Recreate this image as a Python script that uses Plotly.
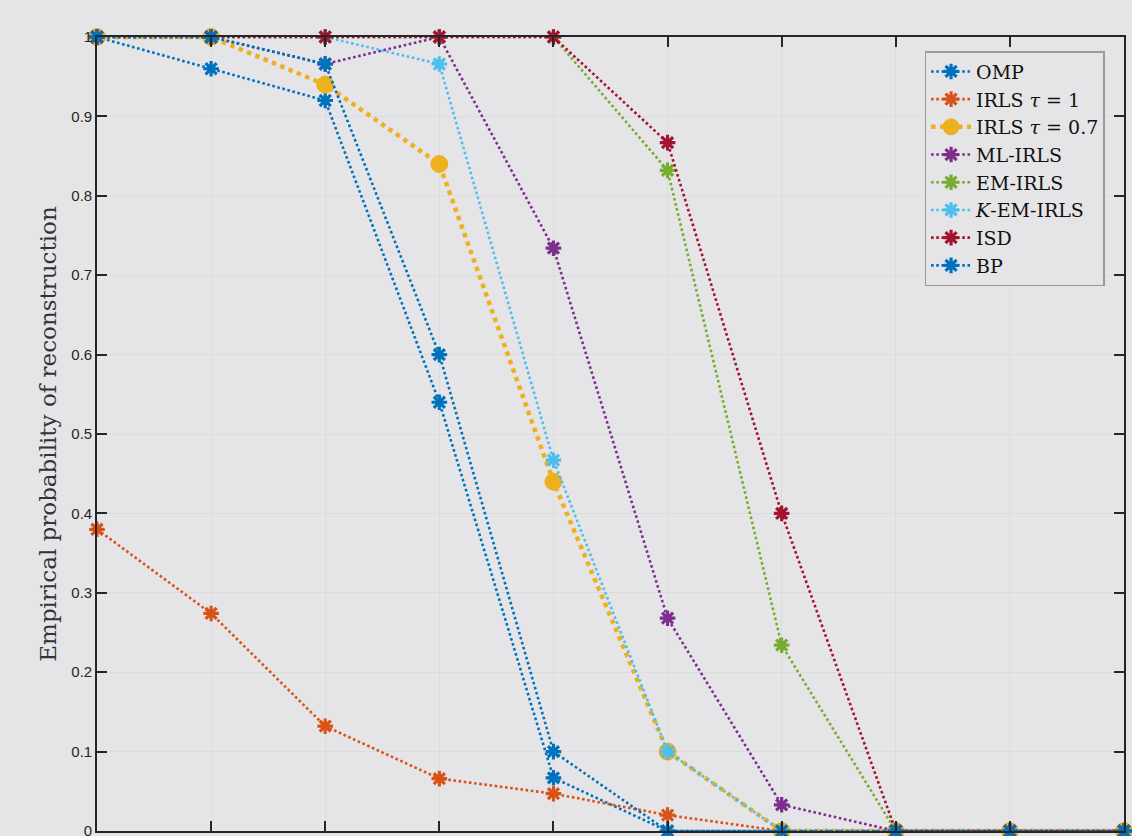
import plotly.graph_objects as go

# Sparsity levels (x positions of the experiment grid)
x_vals = [1, 2, 3, 4, 5, 6, 7, 8, 9, 10]

# Empirical reconstruction probability for each method
omp = [1.0, 0.96, 0.92, 0.54, 0.067, 0.0, 0.0, 0.0, 0.0, 0.0]
irls_1 = [0.38, 0.274, 0.132, 0.066, 0.047, 0.02, 0.0, 0.0, 0.0, 0.0]
irls_07 = [1.0, 1.0, 0.94, 0.84, 0.44, 0.10, 0.0, 0.0, 0.0, 0.0]
ml_irls = [1.0, 1.0, 0.966, 1.0, 0.734, 0.268, 0.033, 0.0, 0.0, 0.0]
em_irls = [1.0, 1.0, 1.0, 1.0, 1.0, 0.832, 0.234, 0.0, 0.0, 0.0]
kem_irls = [1.0, 1.0, 1.0, 0.966, 0.467, 0.10, 0.0, 0.0, 0.0, 0.0]
isd = [1.0, 1.0, 1.0, 1.0, 1.0, 0.867, 0.40, 0.0, 0.0, 0.0]
bp = [1.0, 1.0, 0.966, 0.60, 0.10, 0.0, 0.0, 0.0, 0.0, 0.0]

y_ticks = [0, 0.1, 0.2, 0.3, 0.4, 0.5, 0.6, 0.7, 0.8, 0.9, 1]
y_tick_text = ["0", "0.1", "0.2", "0.3", "0.4", "0.5", "0.6", "0.7", "0.8", "0.9", "1"]

series = [
    ("OMP", omp, "#0072BD", "star"),
    ("IRLS <i>τ</i> = 1", irls_1, "#D95319", "star"),
    ("IRLS <i>τ</i> = 0.7", irls_07, "#EDB120", "circle"),
    ("ML-IRLS", ml_irls, "#7E2F8E", "star"),
    ("EM-IRLS", em_irls, "#77AC30", "star"),
    ("<i>K</i>-EM-IRLS", kem_irls, "#4DBEEE", "star"),
    ("ISD", isd, "#A2142F", "star"),
    ("BP", bp, "#0072BD", "star"),
]

BG = "#e5e5e7"
AXIS = "#262626"
SERIF = "DejaVu Serif"

fig = go.Figure()
for name, vals, color, kind in series:
    if kind == "circle":
        line = dict(color=color, width=4.5, dash="4.5px,4.5px")
        marker = dict(symbol="circle", size=17, color=color,
                      line=dict(color=color, width=1))
    else:
        line = dict(color=color, width=2.6, dash="2.6px,2.6px")
        marker = dict(symbol="asterisk-open", size=13,
                      line=dict(color=color, width=3.2))
    fig.add_trace(go.Scatter(
        x=x_vals, y=vals, name=name, mode="lines+markers",
        line=line, marker=marker, cliponaxis=False,
    ))

fig.update_layout(
    width=1132, height=836,
    margin=dict(l=97, r=8, t=37, b=5, autoexpand=False),
    paper_bgcolor=BG, plot_bgcolor=BG,
    showlegend=True,
    legend=dict(
        x=0.806, y=0.982, xanchor="left", yanchor="top",
        bgcolor=BG, bordercolor="#9a9a9a", borderwidth=1.3,
        font=dict(family=SERIF, size=19, color="#111111"),
        tracegroupgap=0, itemwidth=40,
    ),
    font=dict(family="Liberation Sans", size=14, color=AXIS),
)

fig.update_xaxes(
    range=[1, 10], tickvals=x_vals, showticklabels=False,
    ticks="inside", ticklen=10, tickwidth=1.5, tickcolor=AXIS,
    showline=True, linecolor=AXIS, linewidth=1.6, mirror="allticks",
    showgrid=True, gridcolor="#dcdcde", gridwidth=1, zeroline=False,
    automargin=False,
)
fig.update_yaxes(
    range=[0, 1], tickvals=y_ticks, ticktext=y_tick_text,
    ticks="inside", ticklen=10, tickwidth=1.5, tickcolor=AXIS,
    showline=True, linecolor=AXIS, linewidth=1.6, mirror="allticks",
    showgrid=True, gridcolor="#dcdcde", gridwidth=1, zeroline=False,
    ticklabeloverflow="allow", automargin=False,
    tickfont=dict(family="Liberation Sans", size=15, color=AXIS),
    title=dict(text="Empirical probability of reconstruction",
               font=dict(family=SERIF, size=23, color="#333333"),
               standoff=8),
)

fig.write_html("out.html")
